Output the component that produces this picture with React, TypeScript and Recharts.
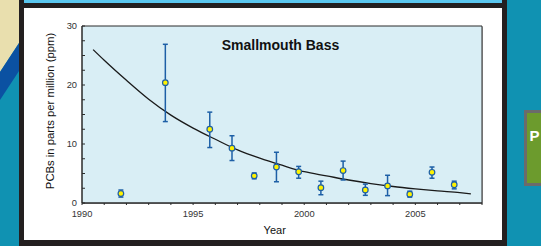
import { ComposedChart, Line, Scatter, ErrorBar, XAxis, YAxis, ReferenceArea } from 'recharts';

// sampled fish: mean PCB level per year with low / high bounds (ppm)
const sampleYears = [1991.75, 1993.75, 1995.75, 1996.75, 1997.75, 1998.75, 1999.75, 2000.75, 2001.75, 2002.75, 2003.75, 2004.75, 2005.75, 2006.75];
const meanPpm = [1.6, 20.4, 12.5, 9.3, 4.6, 6.1, 5.3, 2.6, 5.5, 2.2, 2.9, 1.5, 5.2, 3.1];
const lowPpm = [1.0, 13.8, 9.4, 7.2, 4.1, 3.6, 4.2, 1.4, 3.9, 1.3, 1.25, 1.0, 4.2, 2.4];
const highPpm = [2.2, 26.9, 15.4, 11.4, 5.1, 8.6, 6.2, 3.7, 7.1, 3.2, 4.7, 2.0, 6.1, 3.7];

// trend curve
const trendYears = [1990.5, 1991, 1992, 1993, 1994, 1995, 1996, 1997, 1998, 1999, 2000, 2001, 2002, 2003, 2004, 2005, 2006, 2007, 2007.5];
const trendPpm = [26.0, 24.2, 20.8, 17.6, 14.9, 12.7, 10.8, 9.0, 7.6, 6.4, 5.3, 4.6, 3.9, 3.3, 2.8, 2.4, 2.05, 1.75, 1.55];

const xTicks = [1990, 1991, 1992, 1993, 1994, 1995, 1996, 1997, 1998, 1999, 2000, 2001, 2002, 2003, 2004, 2005, 2006, 2007, 2008];
const yTicks = [0, 2.5, 5, 7.5, 10, 12.5, 15, 17.5, 20, 22.5, 25, 27.5, 30];

const points = sampleYears.map((year, i) => ({
  year,
  ppm: meanPpm[i],
  err: [meanPpm[i] - lowPpm[i], highPpm[i] - meanPpm[i]],
}));
const trend = trendYears.map((year, i) => ({ year, fit: trendPpm[i] }));

const font = '"Liberation Sans", Arial, sans-serif';
const axisColor = '#2b2b2b';

const Dot = (props: any) => (
  <circle cx={props.cx} cy={props.cy} r={2.8} fill="#fff200" stroke="#1d5fa6" strokeWidth={1.2} />
);

export default function App() {
  return (
    <div style={{ position: 'absolute', left: 0, top: 0, width: 541, height: 246, overflow: 'hidden', fontFamily: font }}>
      {/* slide background around the chart panel */}
      <svg width={541} height={246} style={{ position: 'absolute', left: 0, top: 0 }}>
        <rect x={0} y={0} width={541} height={246} fill="#1092b2" />
        <polygon points="0,0 19,0 19,43 0,72" fill="#e9dfae" />
        <polygon points="19,43 19,71 0,100 0,72" fill="#0b51a2" />
        <rect x={19} y={0} width={488} height={246} fill="#231f20" />
        <rect x={24} y={0} width={478} height={3} fill="#5ac6ef" />
        <rect x={24} y={8} width={478} height={232} fill="#ffffff" />
        <rect x={83} y={27} width={400} height={177} fill="#b8b8b8" />
        <rect x={524} y={110} width={30} height={76} fill="#6b6b6b" />
        <rect x={527} y={113} width={30} height={70} fill="#6c9b2d" />
        <text x={529.5} y={141} fill="#ffffff" fontSize={15} fontWeight="bold" fontFamily={font}>P</text>
      </svg>

      <div style={{ position: 'absolute', left: 0, top: 0 }}>
        <ComposedChart width={541} height={246} margin={{ top: 26, right: 59, bottom: 13, left: 42 }} style={{ fontFamily: font }}>
          <ReferenceArea x1={1990} x2={2008} y1={0} y2={30} fill="#d9eef5" fillOpacity={1} stroke={axisColor} strokeWidth={1} />
          <XAxis
            dataKey="year"
            type="number"
            domain={[1990, 2008]}
            ticks={xTicks}
            interval={0}
            height={30}
            tickSize={2}
            tickMargin={5}
            stroke={axisColor}
            tickFormatter={(v: number) => (v % 5 === 0 ? String(v) : '')}
            tick={{ fontSize: 9.3, fill: '#333' }}
          />
          <YAxis
            type="number"
            domain={[0, 30]}
            ticks={yTicks}
            interval={0}
            width={40}
            tickSize={-3}
            tickMargin={8}
            stroke={axisColor}
            tickFormatter={(v: number) => (v % 10 === 0 ? String(v) : '')}
            tick={{ fontSize: 9.3, fill: '#333' }}
          />
          <Line
            data={trend}
            dataKey="fit"
            type="monotone"
            stroke="#1a1a1a"
            strokeWidth={1.3}
            dot={false}
            activeDot={false}
            isAnimationActive={false}
          />
          <Scatter data={points} dataKey="ppm" shape={Dot} isAnimationActive={false}>
            <ErrorBar dataKey="err" direction="y" width={2.5} stroke="#1d5fa6" strokeWidth={1.5} />
          </Scatter>
        </ComposedChart>
      </div>

      {/* title and axis titles */}
      <svg width={541} height={246} style={{ position: 'absolute', left: 0, top: 0, pointerEvents: 'none' }}>
        <text x={280.5} y={44.5} textAnchor="middle" dominantBaseline="central" fontSize={14} fontWeight="bold" fill="#111" fontFamily={font}>
          Smallmouth Bass
        </text>
        <text
          x={50}
          y={111}
          textAnchor="middle"
          dominantBaseline="central"
          fontSize={11.3}
          fill="#111"
          fontFamily={font}
          transform="rotate(-90 50 111)"
        >
          PCBs in parts per million (ppm)
        </text>
        <text x={274.7} y={230} textAnchor="middle" dominantBaseline="central" fontSize={11} fill="#111" fontFamily={font}>
          Year
        </text>
      </svg>
    </div>
  );
}
